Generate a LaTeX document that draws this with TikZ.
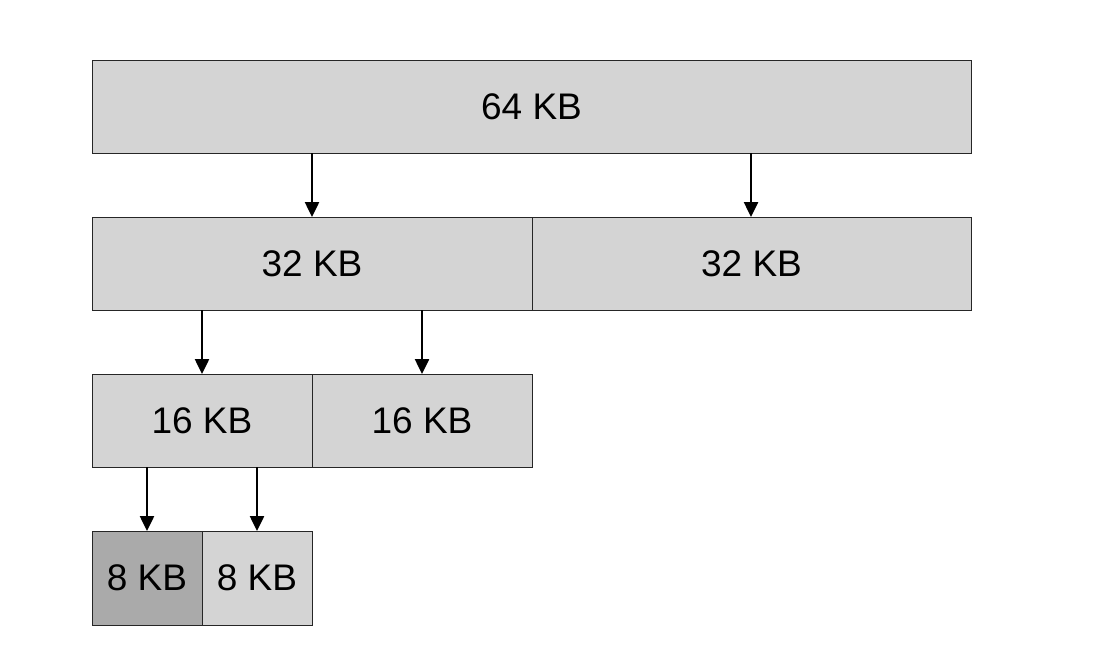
\documentclass[tikz,border=0pt]{standalone}
\usepackage{fontspec}
\setmainfont{Liberation Sans}
\usetikzlibrary{arrows.meta}
\definecolor{lightg}{HTML}{D4D4D4}
\definecolor{darkg}{HTML}{AAAAAA}
\begin{document}
\begin{tikzpicture}[x=1pt,y=-1pt,
  blk/.style={draw=black!85, line width=1pt, fill=lightg, font=\fontsize{37}{40}\selectfont, inner sep=0pt},
  arr/.style={line width=2.5pt, -{Triangle[length=15pt,width=14pt]}}]
\useasboundingbox (0,0) rectangle (1110,670);
\path[blk] (92,60) rectangle node (b64) {64 KB} (971,153);
\path[blk] (92,217) rectangle node (a32) {32 KB} (532,310);
\path[blk] (532,217) rectangle node (b32) {32 KB} (971,310);
\path[blk] (92,374) rectangle node (a16) {16 KB} (312,467);
\path[blk] (312,374) rectangle node (b16) {16 KB} (532,467);
\path[blk, fill=darkg] (92,531) rectangle node (a8) {8 KB} (202,625);
\path[blk] (202,531) rectangle node (b8) {8 KB} (312,625);
\coordinate (s1) at (312,153); \coordinate (t1) at (312,217);
\coordinate (s2) at (751,153); \coordinate (t2) at (751,217);
\coordinate (s3) at (202,310); \coordinate (t3) at (202,374);
\coordinate (s4) at (422,310); \coordinate (t4) at (422,374);
\coordinate (s5) at (147,467); \coordinate (t5) at (147,531);
\coordinate (s6) at (257,467); \coordinate (t6) at (257,531);
\foreach \i in {1,...,6} { \draw[arr] (s\i) -- (t\i); }
\end{tikzpicture}
\end{document}
